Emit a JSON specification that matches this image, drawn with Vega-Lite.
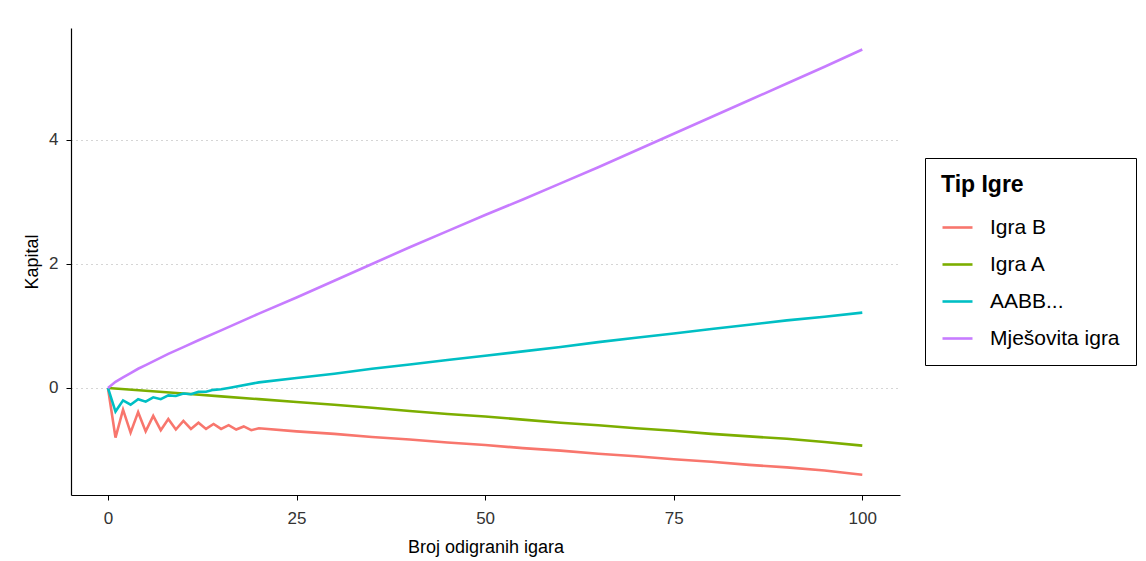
{
  "$schema": "https://vega.github.io/schema/vega-lite/v6.json",
  "autosize": {"type": "none"},
  "width": 829,
  "height": 467,
  "padding": {"left": 71, "top": 28, "right": 246, "bottom": 66},
  "background": "white",
  "config": {
    "font": "Liberation Sans",
    "view": {"stroke": null}
  },
  "data": {
    "values": [
      {"n": 0, "kapital": 0, "tip": "Igra B"},
      {"n": 1, "kapital": -0.8, "tip": "Igra B"},
      {"n": 2, "kapital": -0.35, "tip": "Igra B"},
      {"n": 3, "kapital": -0.72, "tip": "Igra B"},
      {"n": 4, "kapital": -0.39, "tip": "Igra B"},
      {"n": 5, "kapital": -0.7, "tip": "Igra B"},
      {"n": 6, "kapital": -0.45, "tip": "Igra B"},
      {"n": 7, "kapital": -0.68, "tip": "Igra B"},
      {"n": 8, "kapital": -0.5, "tip": "Igra B"},
      {"n": 9, "kapital": -0.67, "tip": "Igra B"},
      {"n": 10, "kapital": -0.53, "tip": "Igra B"},
      {"n": 11, "kapital": -0.66, "tip": "Igra B"},
      {"n": 12, "kapital": -0.56, "tip": "Igra B"},
      {"n": 13, "kapital": -0.66, "tip": "Igra B"},
      {"n": 14, "kapital": -0.58, "tip": "Igra B"},
      {"n": 15, "kapital": -0.66, "tip": "Igra B"},
      {"n": 16, "kapital": -0.6, "tip": "Igra B"},
      {"n": 17, "kapital": -0.67, "tip": "Igra B"},
      {"n": 18, "kapital": -0.62, "tip": "Igra B"},
      {"n": 19, "kapital": -0.68, "tip": "Igra B"},
      {"n": 20, "kapital": -0.65, "tip": "Igra B"},
      {"n": 25, "kapital": -0.7, "tip": "Igra B"},
      {"n": 30, "kapital": -0.74, "tip": "Igra B"},
      {"n": 35, "kapital": -0.79, "tip": "Igra B"},
      {"n": 40, "kapital": -0.83, "tip": "Igra B"},
      {"n": 45, "kapital": -0.88, "tip": "Igra B"},
      {"n": 50, "kapital": -0.92, "tip": "Igra B"},
      {"n": 55, "kapital": -0.97, "tip": "Igra B"},
      {"n": 60, "kapital": -1.01, "tip": "Igra B"},
      {"n": 65, "kapital": -1.06, "tip": "Igra B"},
      {"n": 70, "kapital": -1.1, "tip": "Igra B"},
      {"n": 75, "kapital": -1.15, "tip": "Igra B"},
      {"n": 80, "kapital": -1.19, "tip": "Igra B"},
      {"n": 85, "kapital": -1.24, "tip": "Igra B"},
      {"n": 90, "kapital": -1.28, "tip": "Igra B"},
      {"n": 95, "kapital": -1.33, "tip": "Igra B"},
      {"n": 100, "kapital": -1.4, "tip": "Igra B"},

      {"n": 0, "kapital": 0, "tip": "Igra A"},
      {"n": 5, "kapital": -0.045, "tip": "Igra A"},
      {"n": 10, "kapital": -0.09, "tip": "Igra A"},
      {"n": 15, "kapital": -0.135, "tip": "Igra A"},
      {"n": 20, "kapital": -0.18, "tip": "Igra A"},
      {"n": 25, "kapital": -0.225, "tip": "Igra A"},
      {"n": 30, "kapital": -0.27, "tip": "Igra A"},
      {"n": 35, "kapital": -0.32, "tip": "Igra A"},
      {"n": 40, "kapital": -0.37, "tip": "Igra A"},
      {"n": 45, "kapital": -0.42, "tip": "Igra A"},
      {"n": 50, "kapital": -0.46, "tip": "Igra A"},
      {"n": 55, "kapital": -0.51, "tip": "Igra A"},
      {"n": 60, "kapital": -0.56, "tip": "Igra A"},
      {"n": 65, "kapital": -0.6, "tip": "Igra A"},
      {"n": 70, "kapital": -0.65, "tip": "Igra A"},
      {"n": 75, "kapital": -0.69, "tip": "Igra A"},
      {"n": 80, "kapital": -0.74, "tip": "Igra A"},
      {"n": 85, "kapital": -0.78, "tip": "Igra A"},
      {"n": 90, "kapital": -0.82, "tip": "Igra A"},
      {"n": 95, "kapital": -0.87, "tip": "Igra A"},
      {"n": 100, "kapital": -0.93, "tip": "Igra A"},

      {"n": 0, "kapital": 0, "tip": "AABB..."},
      {"n": 1, "kapital": -0.38, "tip": "AABB..."},
      {"n": 2, "kapital": -0.2, "tip": "AABB..."},
      {"n": 3, "kapital": -0.27, "tip": "AABB..."},
      {"n": 4, "kapital": -0.18, "tip": "AABB..."},
      {"n": 5, "kapital": -0.22, "tip": "AABB..."},
      {"n": 6, "kapital": -0.15, "tip": "AABB..."},
      {"n": 7, "kapital": -0.18, "tip": "AABB..."},
      {"n": 8, "kapital": -0.12, "tip": "AABB..."},
      {"n": 9, "kapital": -0.13, "tip": "AABB..."},
      {"n": 10, "kapital": -0.09, "tip": "AABB..."},
      {"n": 11, "kapital": -0.1, "tip": "AABB..."},
      {"n": 12, "kapital": -0.06, "tip": "AABB..."},
      {"n": 13, "kapital": -0.06, "tip": "AABB..."},
      {"n": 14, "kapital": -0.03, "tip": "AABB..."},
      {"n": 15, "kapital": -0.02, "tip": "AABB..."},
      {"n": 16, "kapital": 0.0, "tip": "AABB..."},
      {"n": 20, "kapital": 0.09, "tip": "AABB..."},
      {"n": 25, "kapital": 0.16, "tip": "AABB..."},
      {"n": 30, "kapital": 0.23, "tip": "AABB..."},
      {"n": 35, "kapital": 0.31, "tip": "AABB..."},
      {"n": 40, "kapital": 0.38, "tip": "AABB..."},
      {"n": 45, "kapital": 0.45, "tip": "AABB..."},
      {"n": 50, "kapital": 0.52, "tip": "AABB..."},
      {"n": 55, "kapital": 0.59, "tip": "AABB..."},
      {"n": 60, "kapital": 0.66, "tip": "AABB..."},
      {"n": 65, "kapital": 0.74, "tip": "AABB..."},
      {"n": 70, "kapital": 0.81, "tip": "AABB..."},
      {"n": 75, "kapital": 0.88, "tip": "AABB..."},
      {"n": 80, "kapital": 0.95, "tip": "AABB..."},
      {"n": 85, "kapital": 1.02, "tip": "AABB..."},
      {"n": 90, "kapital": 1.09, "tip": "AABB..."},
      {"n": 95, "kapital": 1.15, "tip": "AABB..."},
      {"n": 100, "kapital": 1.215, "tip": "AABB..."},

      {"n": 0, "kapital": 0, "tip": "Mješovita igra"},
      {"n": 1, "kapital": 0.1, "tip": "Mješovita igra"},
      {"n": 2, "kapital": 0.17, "tip": "Mješovita igra"},
      {"n": 3, "kapital": 0.24, "tip": "Mješovita igra"},
      {"n": 4, "kapital": 0.31, "tip": "Mješovita igra"},
      {"n": 5, "kapital": 0.37, "tip": "Mješovita igra"},
      {"n": 6, "kapital": 0.43, "tip": "Mješovita igra"},
      {"n": 8, "kapital": 0.55, "tip": "Mješovita igra"},
      {"n": 10, "kapital": 0.66, "tip": "Mješovita igra"},
      {"n": 12, "kapital": 0.77, "tip": "Mješovita igra"},
      {"n": 15, "kapital": 0.93, "tip": "Mješovita igra"},
      {"n": 20, "kapital": 1.2, "tip": "Mješovita igra"},
      {"n": 25, "kapital": 1.46, "tip": "Mješovita igra"},
      {"n": 30, "kapital": 1.73, "tip": "Mješovita igra"},
      {"n": 35, "kapital": 2.0, "tip": "Mješovita igra"},
      {"n": 40, "kapital": 2.27, "tip": "Mješovita igra"},
      {"n": 45, "kapital": 2.53, "tip": "Mješovita igra"},
      {"n": 50, "kapital": 2.79, "tip": "Mješovita igra"},
      {"n": 55, "kapital": 3.04, "tip": "Mješovita igra"},
      {"n": 60, "kapital": 3.3, "tip": "Mješovita igra"},
      {"n": 65, "kapital": 3.56, "tip": "Mješovita igra"},
      {"n": 70, "kapital": 3.83, "tip": "Mješovita igra"},
      {"n": 75, "kapital": 4.1, "tip": "Mješovita igra"},
      {"n": 80, "kapital": 4.37, "tip": "Mješovita igra"},
      {"n": 85, "kapital": 4.64, "tip": "Mješovita igra"},
      {"n": 90, "kapital": 4.91, "tip": "Mješovita igra"},
      {"n": 95, "kapital": 5.18, "tip": "Mješovita igra"},
      {"n": 100, "kapital": 5.46, "tip": "Mješovita igra"}
    ]
  },
  "mark": {"type": "line", "strokeWidth": 2.6, "interpolate": "linear"},
  "encoding": {
    "x": {
      "field": "n",
      "type": "quantitative",
      "scale": {"domain": [-4.9, 105], "nice": false, "zero": false},
      "axis": {
        "title": "Broj odigranih igara",
        "values": [0, 25, 50, 75, 100],
        "grid": false,
        "domainColor": "black",
        "domainWidth": 1.2,
        "tickColor": "black",
        "tickSize": 5,
        "labelColor": "#333333",
        "labelFontSize": 17,
        "labelPadding": 10,
        "titleColor": "black",
        "titleFontSize": 18,
        "titleFontWeight": "normal",
        "titlePadding": 12
      }
    },
    "y": {
      "field": "kapital",
      "type": "quantitative",
      "scale": {"domain": [-1.726, 5.806], "nice": false, "zero": false},
      "axis": {
        "title": "Kapital",
        "values": [0, 2, 4],
        "grid": true,
        "gridColor": "#aaaaaa",
        "gridDash": [1, 4],
        "gridWidth": 1,
        "domainColor": "black",
        "domainWidth": 1.2,
        "tickColor": "black",
        "tickSize": 5,
        "labelColor": "#333333",
        "labelFontSize": 17,
        "labelPadding": 8,
        "titleColor": "black",
        "titleFontSize": 18,
        "titleFontWeight": "normal",
        "titlePadding": 7
      }
    },
    "color": {
      "field": "tip",
      "type": "nominal",
      "sort": ["Igra B", "Igra A", "AABB...", "Mješovita igra"],
      "scale": {
        "domain": ["Igra B", "Igra A", "AABB...", "Mješovita igra"],
        "range": ["#F8766D", "#7CAE00", "#00BFC4", "#C77CFF"]
      },
      "legend": {
        "title": "Tip Igre",
        "orient": "none",
        "legendX": 854,
        "legendY": 130,
        "strokeColor": "black",
        "padding": 16,
        "titleFontSize": 23,
        "titleFontWeight": "bold",
        "titleColor": "black",
        "titlePadding": 14,
        "labelFontSize": 21,
        "labelColor": "black",
        "labelOffset": 16,
        "symbolType": "stroke",
        "symbolSize": 900,
        "symbolStrokeWidth": 2.6,
        "rowPadding": 10
      }
    }
  }
}
